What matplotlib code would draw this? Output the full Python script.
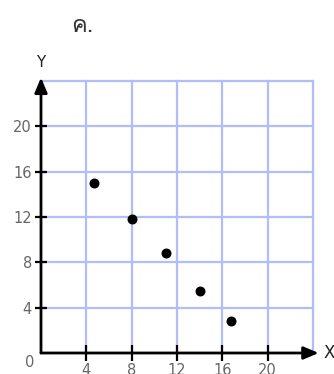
import matplotlib
matplotlib.use("Agg")
import matplotlib.pyplot as plt
from matplotlib import font_manager
from matplotlib.ft2font import FT2Font

# ---- data ----
x_vals = [4.7, 8.0, 11.0, 14.0, 16.8]
y_vals = [15.0, 11.8, 8.8, 5.5, 2.8]
x_ticks = [4, 8, 12, 16, 20]
y_ticks = [4, 8, 12, 16, 20]
grid_vals = [4, 8, 12, 16, 20, 24]
title_text = "ค."

# find a font with Thai glyph
thai_family = None
found = []
for path in sorted(font_manager.findSystemFonts()):
    try:
        f = FT2Font(path)
        if 0x0E04 in f.get_charmap():
            found.append(font_manager.FontProperties(fname=path).get_name())
    except Exception:
        pass
if found:
    thai_family = found[0]

fig = plt.figure(figsize=(3.34, 3.74), dpi=100)
W, H = 334, 374
ox, oy = 41, 353
sx = 272 / 24
ax = fig.add_axes([ox / W, (H - oy) / H, 24 * sx / W, 24 * sx / H])
ax.set_xlim(0, 24)
ax.set_ylim(0, 24)

grid_color = "#b2befa"
for g in grid_vals:
    ax.plot([g, g], [0, 24], color=grid_color, lw=1.6, zorder=1, clip_on=False)
    ax.plot([0, 24], [g, g], color=grid_color, lw=1.6, zorder=1, clip_on=False)

for s in ax.spines.values():
    s.set_visible(False)

# axes with arrows
ax.annotate("", xy=(24.5, 0), xytext=(0, 0),
            arrowprops=dict(arrowstyle="-|>,head_length=0.9,head_width=0.38",
                            color="black", lw=2.0, shrinkA=0, shrinkB=0),
            annotation_clip=False, zorder=3)
ax.annotate("", xy=(0, 24.3), xytext=(0, 0),
            arrowprops=dict(arrowstyle="-|>,head_length=0.9,head_width=0.38",
                            color="black", lw=2.0, shrinkA=0, shrinkB=0),
            annotation_clip=False, zorder=3)

ax.scatter(x_vals, y_vals, s=38, color="black", zorder=4)

ax.set_xticks(x_ticks)
ax.set_yticks(y_ticks)
ax.set_xticklabels([str(t) for t in x_ticks])
ax.set_yticklabels([str(t) for t in y_ticks])
ax.tick_params(axis="x", direction="inout", length=11, width=1.6, color="black",
               pad=2, labelsize=10.5, labelcolor="#666666")
ax.tick_params(axis="y", direction="inout", length=9, width=1.6, color="black",
               pad=2, labelsize=10.5, labelcolor="#666666")

ax.text(-1.0, -0.8, "0", ha="center", va="center", fontsize=10.5, color="#666666",
        clip_on=False)
ax.text(0, 25.6, "Y", ha="center", va="center", fontsize=11, color="#222222",
        clip_on=False)
ax.text(25.4, 0, "X", ha="center", va="center", fontsize=12, color="#222222",
        clip_on=False)

fam = [thai_family, "DejaVu Sans"] if thai_family else ["DejaVu Sans"]
fig.text(82 / W, 1 - 25 / H, title_text, ha="center", va="center", fontsize=17,
         color="#333333", family=fam)

fig.savefig("out.png", dpi=100)
